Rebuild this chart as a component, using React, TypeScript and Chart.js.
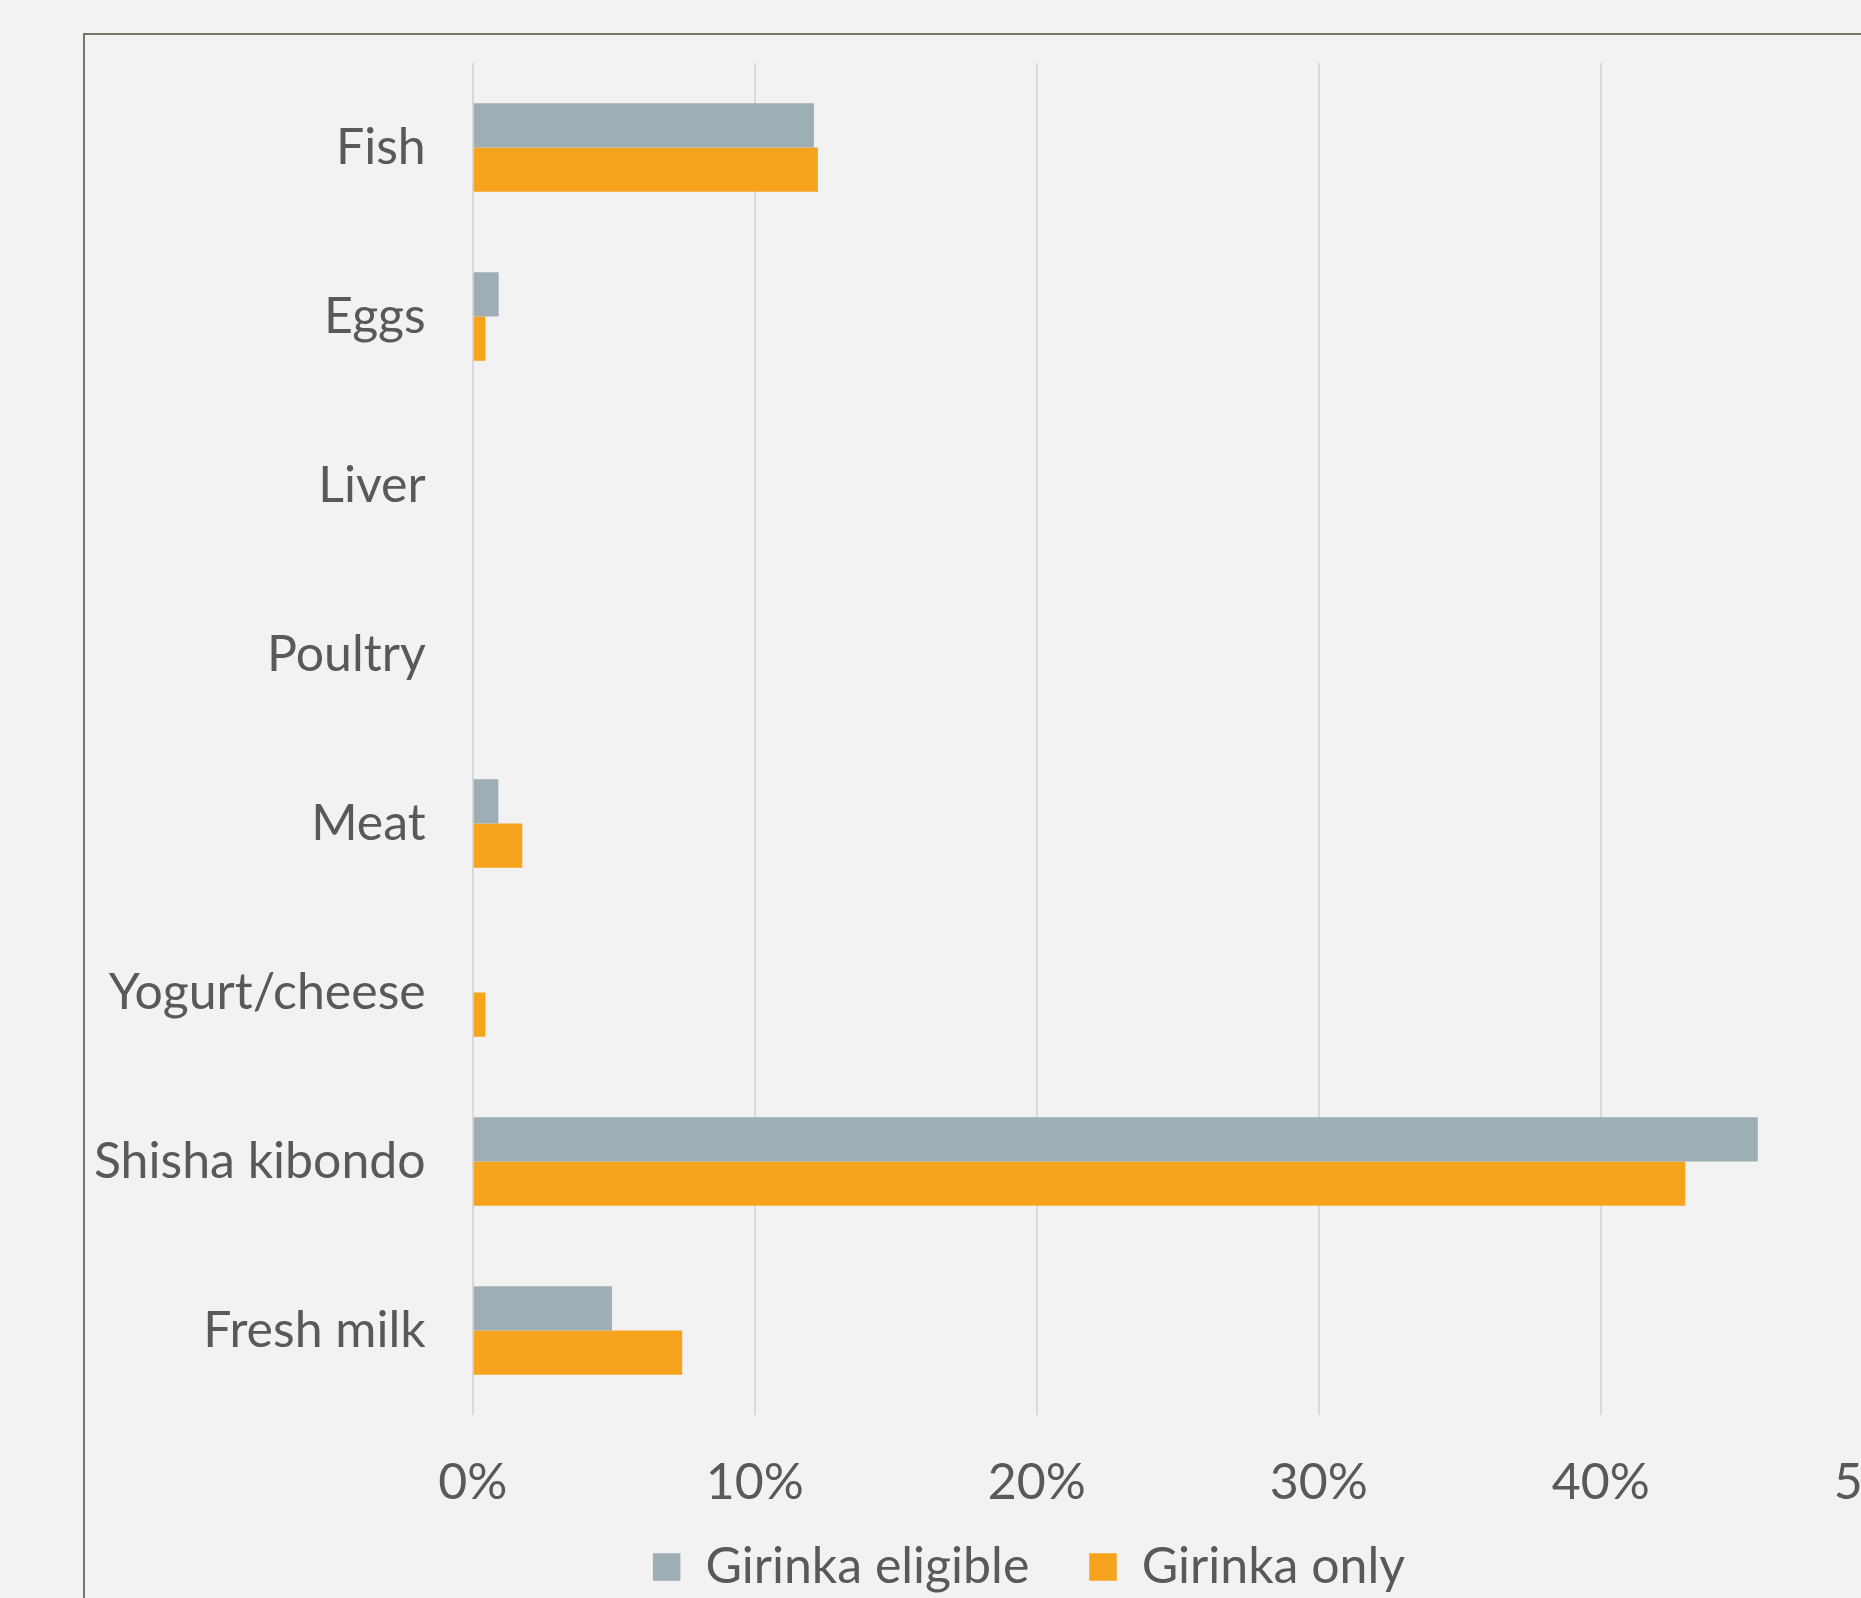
import React, { useEffect, useRef } from "react";
import { Chart, registerables } from "chart.js";

Chart.register(...registerables);

const categories = ["Fish", "Eggs", "Liver", "Poultry", "Meat", "Yogurt/cheese", "Shisha kibondo", "Fresh milk"];
const girinkaEligible = [12.1, 0.92, 0, 0, 0.91, 0, 45.57, 4.94];
const girinkaOnly = [12.24, 0.45, 0, 0, 1.76, 0.45, 43.0, 7.43];
const xTicks = [0, 10, 20, 30, 40, 50];
const seriesNames = ["Girinka eligible", "Girinka only"];

const CANVAS_W = 1888;
const CANVAS_H = 1600;
const FONT = "Lato";
const FONT_SIZE = 50;
const TEXT = "#595959";

const legendShift = {
  id: "legendShift",
  afterLayout(chart: any) {
    const lg = chart.legend;
    if (lg) {
      lg.top -= 33;
      lg.bottom -= 33;
    }
  },
};

export default function App() {
  const ref = useRef<HTMLCanvasElement | null>(null);

  useEffect(() => {
    if (!ref.current) return;
    const chart = new Chart(ref.current, {
      type: "bar",
      data: {
        labels: categories,
        datasets: [
          {
            label: seriesNames[0],
            data: girinkaEligible,
            backgroundColor: "#9DAFB5",
            borderWidth: 0,
            categoryPercentage: 0.525,
            barPercentage: 1,
            xAxisID: "x",
            yAxisID: "y",
          },
          {
            label: seriesNames[1],
            data: girinkaOnly,
            backgroundColor: "#F6A31E",
            borderWidth: 0,
            categoryPercentage: 0.525,
            barPercentage: 1,
            xAxisID: "x",
            yAxisID: "y",
          },
        ],
      },
      plugins: [legendShift],
      options: {
        indexAxis: "y",
        responsive: false,
        maintainAspectRatio: false,
        animation: false,
        layout: { padding: { left: 0, right: 0, top: 28, bottom: 0 } },
        plugins: {
          tooltip: { enabled: false },
          legend: {
            position: "bottom",
            labels: {
              boxWidth: 27.5,
              boxHeight: 27.5,
              padding: 60,
              color: TEXT,
              font: { family: FONT, size: FONT_SIZE },
            },
          },
        },
        scales: {
          x: {
            min: 0,
            max: 50,
            afterBuildTicks: (scale: any) => {
              scale.ticks = xTicks.map((v) => ({ value: v }));
            },
            afterFit: (scale: any) => {
              scale.height = 100;
              scale.paddingLeft = 0;
              scale.paddingRight = 0;
            },
            grid: { color: "#D9D9D9", lineWidth: 2, drawTicks: false },
            border: { display: false },
            ticks: {
              padding: 37.5,
              color: TEXT,
              font: { family: FONT, size: FONT_SIZE },
              callback: (v: any) => v + "%",
            },
          },
          y: {
            position: "left",
            afterFit: (scale: any) => {
              scale.width = 387.7;
              scale.paddingTop = 0;
              scale.paddingBottom = 0;
            },
            grid: { display: false, drawTicks: false },
            border: { display: false },
            ticks: {
              padding: 47,
              color: TEXT,
              font: { family: FONT, size: FONT_SIZE },
            },
          },
          y2: {
            type: "category",
            position: "right",
            afterFit: (scale: any) => {
              scale.width = 90.3;
              scale.paddingTop = 0;
              scale.paddingBottom = 0;
            },
            grid: { display: false, drawTicks: false },
            border: { display: false },
            ticks: { display: false },
          },
        },
      },
    });
    return () => chart.destroy();
  }, []);

  return (
    <div style={{ position: "fixed", inset: 0, overflow: "hidden", background: "#F2F2F2" }}>
      <div
        style={{
          position: "absolute",
          left: 83,
          top: 33,
          width: 2100,
          height: 1800,
          border: "2px solid #7A7466",
          boxSizing: "border-box",
        }}
      />
      <div style={{ position: "absolute", left: 85, top: 35, width: CANVAS_W, height: CANVAS_H }}>
        <canvas ref={ref} width={CANVAS_W} height={CANVAS_H} style={{ width: CANVAS_W, height: CANVAS_H, display: "block" }} />
      </div>
    </div>
  );
}
